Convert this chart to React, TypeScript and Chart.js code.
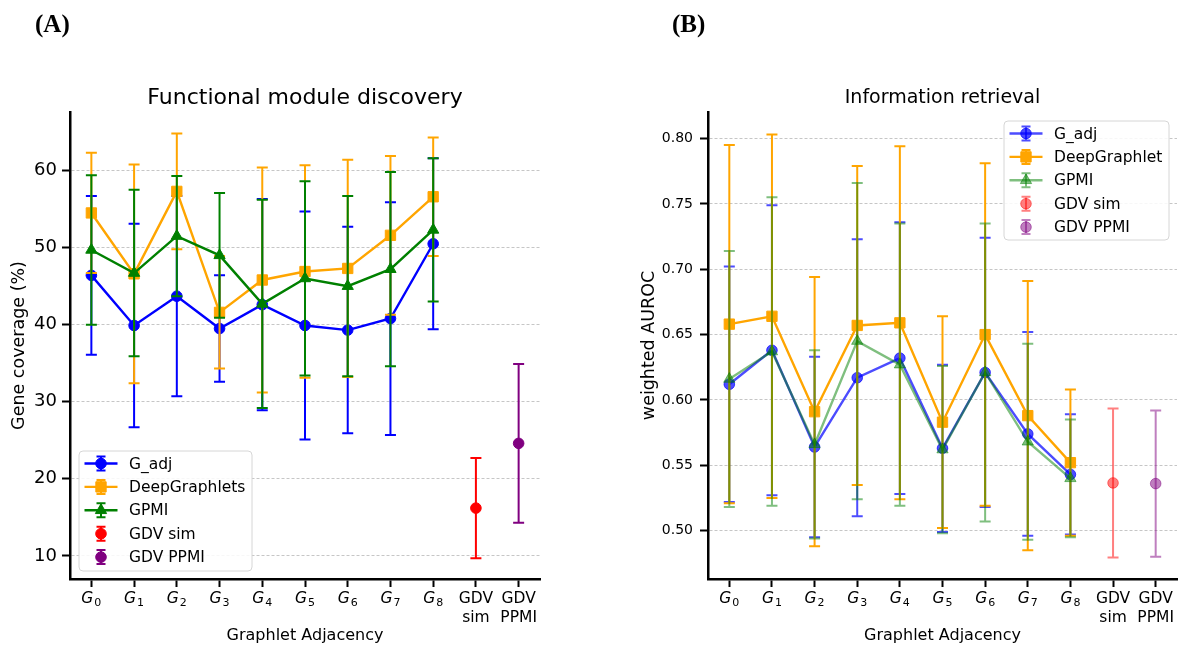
import React, { useEffect, useRef } from "react";
import { Chart, registerables } from "chart.js";

Chart.register(...registerables);

const FONT = "'DejaVu Sans', 'Liberation Sans', sans-serif";

// ---------- shared categories ----------
const categories = ["G0", "G1", "G2", "G3", "G4", "G5", "G6", "G7", "G8", "GDV sim", "GDV PPMI"];
const graphletSubscripts = ["0", "1", "2", "3", "4", "5", "6", "7", "8"];
const gdvTickLabels = [["GDV", "sim"], ["GDV", "PPMI"]];
const xAxisTitle = "Graphlet Adjacency";

// ---------- Panel A: Functional module discovery ----------
const fmYTicks = [10, 20, 30, 40, 50, 60];
const fmAdjMean = [46.4, 39.9, 43.7, 39.5, 42.6, 39.9, 39.3, 40.8, 50.5];
const fmAdjErr = [10.3, 13.2, 13.0, 6.9, 13.7, 14.8, 13.4, 15.1, 11.1];
const fmDeepMean = [54.5, 46.6, 57.3, 41.6, 45.8, 46.9, 47.3, 51.6, 56.6];
const fmDeepErr = [7.8, 14.2, 7.5, 7.3, 14.6, 13.8, 14.1, 10.3, 7.7];
const fmGpmiMean = [49.7, 46.7, 51.5, 49.0, 42.7, 46.0, 45.0, 47.2, 52.3];
const fmGpmiErr = [9.7, 10.8, 7.8, 8.1, 13.5, 12.6, 11.7, 12.6, 9.3];
const fmGdvSimMean = [16.2];
const fmGdvSimErr = [6.5];
const fmGdvPpmiMean = [24.6];
const fmGdvPpmiErr = [10.3];

// ---------- Panel B: Information retrieval ----------
const irYTicks = [0.5, 0.55, 0.6, 0.65, 0.7, 0.75, 0.8];
const irAdjMean = [0.612, 0.638, 0.564, 0.617, 0.632, 0.563, 0.621, 0.574, 0.543];
const irAdjErr = [0.09, 0.111, 0.069, 0.106, 0.104, 0.064, 0.103, 0.078, 0.046];
const irDeepMean = [0.658, 0.664, 0.591, 0.657, 0.659, 0.583, 0.65, 0.588, 0.552];
const irDeepErr = [0.137, 0.139, 0.103, 0.122, 0.135, 0.081, 0.131, 0.103, 0.056];
const irGpmiMean = [0.616, 0.637, 0.566, 0.645, 0.627, 0.562, 0.621, 0.568, 0.54];
const irGpmiErr = [0.098, 0.118, 0.072, 0.121, 0.108, 0.064, 0.114, 0.075, 0.045];
const irGdvSimMean = [0.5365];
const irGdvSimErr = [0.057];
const irGdvPpmiMean = [0.536];
const irGdvPpmiErr = [0.056];

type Marker = "circle" | "rect" | "triangle";
type SeriesSpec = {
  label: string;
  mean: number[];
  err: number[];
  start: number;
  color: string;
  alpha: number;
  marker: Marker;
  radius: number;
  line: boolean;
};
type PanelSpec = {
  title: string;
  titleSize: number;
  yTitle: string;
  yMin: number;
  yMax: number;
  yTicks: number[];
  yTickSize: number;
  yTickPad: number;
  yDigits: number;
  padLeft: number;
  padRight: number;
  yAxisWidth: number;
  series: SeriesSpec[];
  legend: { x: number; y: number; w: number; h: number };
};

const X_TICK_SIZE = 15.5;
const X_TICK_PAD = 2;
const TICK_LEN = 8;

function rgba(hex: string, a: number) {
  const h = hex.replace("#", "");
  const r = parseInt(h.slice(0, 2), 16);
  const g = parseInt(h.slice(2, 4), 16);
  const b = parseInt(h.slice(4, 6), 16);
  return `rgba(${r},${g},${b},${a})`;
}

function drawMarker(ctx: CanvasRenderingContext2D, m: Marker, x: number, y: number, r: number, c: string) {
  ctx.save();
  ctx.fillStyle = c;
  ctx.strokeStyle = c;
  ctx.lineWidth = 1;
  ctx.beginPath();
  if (m === "circle") {
    ctx.arc(x, y, r, 0, Math.PI * 2);
  } else if (m === "rect") {
    const s = r * Math.SQRT1_2;
    ctx.rect(x - s, y - s, 2 * s, 2 * s);
  } else {
    for (let k = 0; k < 3; k++) {
      const a = (k * 2 * Math.PI) / 3;
      const px = x + Math.sin(a) * r;
      const py = y - Math.cos(a) * r;
      if (k === 0) ctx.moveTo(px, py);
      else ctx.lineTo(px, py);
    }
    ctx.closePath();
  }
  ctx.fill();
  ctx.stroke();
  ctx.restore();
}

const errorBarPlugin = {
  id: "errorBars",
  beforeDatasetDraw(chart: any, args: any) {
    const ds: any = chart.data.datasets[args.index];
    if (!ds.errors) return;
    const xs = chart.scales.x;
    const ys = chart.scales.y;
    const ctx: CanvasRenderingContext2D = chart.ctx;
    const cap = 5.5;
    ctx.save();
    ctx.strokeStyle = ds.errColor;
    ctx.lineWidth = 2;
    ds.data.forEach((v: number | null, i: number) => {
      if (v == null) return;
      const e = ds.errors[i];
      const px = xs.getPixelForValue(i);
      const top = ys.getPixelForValue(v + e);
      const bot = ys.getPixelForValue(v - e);
      ctx.beginPath();
      ctx.moveTo(px, top);
      ctx.lineTo(px, bot);
      ctx.moveTo(px - cap, top);
      ctx.lineTo(px + cap, top);
      ctx.moveTo(px - cap, bot);
      ctx.lineTo(px + cap, bot);
      ctx.stroke();
    });
    ctx.restore();
  },
};

const graphletTickPlugin = {
  id: "graphletTicks",
  afterDraw(chart: any) {
    const xs = chart.scales.x;
    const ctx: CanvasRenderingContext2D = chart.ctx;
    const y = xs.top + TICK_LEN + X_TICK_PAD + (X_TICK_SIZE * 1.25) / 2;
    const sub = 11;
    ctx.save();
    ctx.fillStyle = "#000";
    ctx.textBaseline = "middle";
    ctx.textAlign = "left";
    graphletSubscripts.forEach((d, i) => {
      const px = xs.getPixelForValue(i);
      ctx.font = `italic ${X_TICK_SIZE}px ${FONT}`;
      const wG = ctx.measureText("G").width;
      ctx.font = `${sub}px ${FONT}`;
      const wD = ctx.measureText(d).width;
      const start = px - (wG + wD + 1) / 2;
      ctx.font = `italic ${X_TICK_SIZE}px ${FONT}`;
      ctx.fillText("G", start, y);
      ctx.font = `${sub}px ${FONT}`;
      ctx.fillText(d, start + wG + 1, y + 4.5);
    });
    ctx.restore();
  },
};

function makeLegendPlugin(p: PanelSpec) {
  return {
    id: "customLegend",
    afterDraw(chart: any) {
      const ctx: CanvasRenderingContext2D = chart.ctx;
      const L = p.legend;
      const rr = 4;
      ctx.save();
      ctx.beginPath();
      ctx.moveTo(L.x + rr, L.y);
      ctx.lineTo(L.x + L.w - rr, L.y);
      ctx.arcTo(L.x + L.w, L.y, L.x + L.w, L.y + rr, rr);
      ctx.lineTo(L.x + L.w, L.y + L.h - rr);
      ctx.arcTo(L.x + L.w, L.y + L.h, L.x + L.w - rr, L.y + L.h, rr);
      ctx.lineTo(L.x + rr, L.y + L.h);
      ctx.arcTo(L.x, L.y + L.h, L.x, L.y + L.h - rr, rr);
      ctx.lineTo(L.x, L.y + rr);
      ctx.arcTo(L.x, L.y, L.x + rr, L.y, rr);
      ctx.closePath();
      ctx.fillStyle = "rgba(255,255,255,0.85)";
      ctx.fill();
      ctx.strokeStyle = "#d6d6d6";
      ctx.lineWidth = 1;
      ctx.stroke();
      p.series.forEach((s, k) => {
        const cy = L.y + 12.5 + k * 23.4;
        const x0 = L.x + 5.5;
        const x1 = x0 + 33;
        const mx = (x0 + x1) / 2;
        const c = rgba(s.color, s.alpha);
        ctx.strokeStyle = c;
        ctx.lineWidth = 2;
        ctx.beginPath();
        ctx.moveTo(mx, cy - 7);
        ctx.lineTo(mx, cy + 7);
        ctx.moveTo(mx - 4.5, cy - 7);
        ctx.lineTo(mx + 4.5, cy - 7);
        ctx.moveTo(mx - 4.5, cy + 7);
        ctx.lineTo(mx + 4.5, cy + 7);
        ctx.stroke();
        if (s.line) {
          ctx.lineWidth = 2.4;
          ctx.beginPath();
          ctx.moveTo(x0, cy);
          ctx.lineTo(x1, cy);
          ctx.stroke();
        }
        drawMarker(ctx, s.marker, mx, cy, s.radius, c);
        ctx.fillStyle = "#000";
        ctx.font = `15.5px ${FONT}`;
        ctx.textBaseline = "middle";
        ctx.textAlign = "left";
        ctx.fillText(s.label, L.x + 50, cy + 1);
      });
      ctx.restore();
    },
  };
}

function buildConfig(p: PanelSpec): any {
  const datasets = p.series.map((s, k) => {
    const inRange = (i: number) => i >= s.start && i < s.start + s.mean.length;
    const data = categories.map((_, i) => (inRange(i) ? s.mean[i - s.start] : null));
    const errors = categories.map((_, i) => (inRange(i) ? s.err[i - s.start] : null));
    const c = rgba(s.color, s.alpha);
    return {
      type: "line",
      label: s.label,
      data,
      errors,
      errColor: c,
      borderColor: c,
      backgroundColor: c,
      borderWidth: 2.4,
      showLine: s.line,
      pointStyle: s.marker,
      pointRadius: s.radius,
      pointBorderWidth: 1,
      pointBackgroundColor: c,
      pointBorderColor: c,
      tension: 0,
      spanGaps: false,
      order: p.series.length - k,
    };
  });
  const titleLH = p.titleSize * 1.2;
  const titleTop = 98 - titleLH / 2;
  return {
    type: "line",
    data: { labels: categories, datasets },
    plugins: [errorBarPlugin, graphletTickPlugin, makeLegendPlugin(p)],
    options: {
      responsive: false,
      animation: false,
      devicePixelRatio: 1,
      events: [],
      layout: { autoPadding: false, padding: { left: p.padLeft, right: p.padRight, top: 0, bottom: 0 } },
      plugins: {
        legend: { display: false },
        tooltip: { enabled: false },
        title: {
          display: true,
          text: p.title,
          color: "#000",
          fullSize: false,
          font: { family: FONT, size: p.titleSize, weight: "normal", lineHeight: 1.2 },
          padding: { top: titleTop, bottom: 112 - titleTop - titleLH },
        },
      },
      scales: {
        x: {
          type: "category",
          offset: true,
          grid: {
            display: true,
            offset: false,
            drawOnChartArea: false,
            drawTicks: true,
            tickLength: TICK_LEN,
            tickWidth: 2,
            tickColor: "#000",
            color: "rgba(0,0,0,0)",
          },
          border: { display: true, color: "#000", width: 2.5 },
          ticks: {
            autoSkip: false,
            maxRotation: 0,
            minRotation: 0,
            padding: X_TICK_PAD,
            color: "#000",
            font: { family: FONT, size: X_TICK_SIZE, lineHeight: 1.25 },
            callback: (_v: any, i: number) => (i >= graphletSubscripts.length ? gdvTickLabels[i - graphletSubscripts.length] : ""),
          },
          title: {
            display: true,
            text: xAxisTitle,
            color: "#000",
            font: { family: FONT, size: 16, lineHeight: 1.2 },
            padding: { top: 0, bottom: 1.4 },
          },
          afterFit: (s: any) => {
            s.height = 68;
          },
        },
        y: {
          type: "linear",
          min: p.yMin,
          max: p.yMax,
          afterBuildTicks: (s: any) => {
            s.ticks = p.yTicks.map((v) => ({ value: v }));
          },
          grid: {
            color: "#b8b8b8",
            lineWidth: 0.8,
            drawTicks: true,
            tickLength: TICK_LEN,
            tickWidth: 2,
            tickColor: "#000",
          },
          border: { display: true, color: "#000", width: 2.5, dash: [3, 2] },
          ticks: {
            padding: p.yTickPad,
            color: "#000",
            font: { family: FONT, size: p.yTickSize },
            callback: (v: any) => Number(v).toFixed(p.yDigits),
          },
          title: {
            display: true,
            text: p.yTitle,
            color: "#000",
            font: { family: FONT, size: 17.5, lineHeight: 1.2 },
            padding: { top: 8.5, bottom: 0 },
          },
          afterFit: (s: any) => {
            s.width = p.yAxisWidth;
          },
        },
      },
    },
  };
}

const panelA: PanelSpec = {
  title: "Functional module discovery",
  titleSize: 22,
  yTitle: "Gene coverage (%)",
  yMin: 7,
  yMax: 67.6,
  yTicks: fmYTicks,
  yTickSize: 18,
  yTickPad: 5,
  yDigits: 0,
  padLeft: 0,
  padRight: 50,
  yAxisWidth: 70,
  legend: { x: 79, y: 451, w: 173, h: 120 },
  series: [
    { label: "G_adj", mean: fmAdjMean, err: fmAdjErr, start: 0, color: "#0000ff", alpha: 1, marker: "circle", radius: 5.3, line: true },
    { label: "DeepGraphlets", mean: fmDeepMean, err: fmDeepErr, start: 0, color: "#ffa500", alpha: 1, marker: "rect", radius: 7.3, line: true },
    { label: "GPMI", mean: fmGpmiMean, err: fmGpmiErr, start: 0, color: "#008000", alpha: 1, marker: "triangle", radius: 6.5, line: true },
    { label: "GDV sim", mean: fmGdvSimMean, err: fmGdvSimErr, start: 9, color: "#ff0000", alpha: 1, marker: "circle", radius: 5.3, line: false },
    { label: "GDV PPMI", mean: fmGdvPpmiMean, err: fmGdvPpmiErr, start: 10, color: "#800080", alpha: 1, marker: "circle", radius: 5.3, line: false },
  ],
};

const panelB: PanelSpec = {
  title: "Information retrieval",
  titleSize: 19,
  yTitle: "weighted AUROC",
  yMin: 0.463,
  yMax: 0.8203,
  yTicks: irYTicks,
  yTickSize: 14,
  yTickPad: 7,
  yDigits: 2,
  padLeft: 40,
  padRight: 3,
  yAxisWidth: 78,
  legend: { x: 414, y: 121, w: 165, h: 119 },
  series: [
    { label: "G_adj", mean: irAdjMean, err: irAdjErr, start: 0, color: "#0000ff", alpha: 0.7, marker: "circle", radius: 5.3, line: true },
    { label: "DeepGraphlet", mean: irDeepMean, err: irDeepErr, start: 0, color: "#ffa500", alpha: 1, marker: "rect", radius: 7.3, line: true },
    { label: "GPMI", mean: irGpmiMean, err: irGpmiErr, start: 0, color: "#008000", alpha: 0.5, marker: "triangle", radius: 6.5, line: true },
    { label: "GDV sim", mean: irGdvSimMean, err: irGdvSimErr, start: 9, color: "#ff0000", alpha: 0.5, marker: "circle", radius: 5.3, line: false },
    { label: "GDV PPMI", mean: irGdvPpmiMean, err: irGdvPpmiErr, start: 10, color: "#800080", alpha: 0.5, marker: "circle", radius: 5.3, line: false },
  ],
};

function Panel({ spec, left }: { spec: PanelSpec; left: number }) {
  const ref = useRef<HTMLCanvasElement>(null);
  useEffect(() => {
    const chart = new Chart(ref.current as HTMLCanvasElement, buildConfig(spec));
    return () => chart.destroy();
  }, [spec]);
  return (
    <canvas
      ref={ref}
      width={590}
      height={647}
      style={{ position: "absolute", left, top: 0, width: 590, height: 647 }}
    />
  );
}

const labelStyle: React.CSSProperties = {
  position: "absolute",
  top: 11,
  fontFamily: "'Liberation Serif', 'Times New Roman', serif",
  fontWeight: "bold",
  fontSize: 25,
  lineHeight: "26px",
  color: "#000",
};

export default function App() {
  return (
    <div style={{ position: "fixed", left: 0, top: 0, width: 1180, height: 647, background: "#fff", overflow: "hidden" }}>
      <Panel spec={panelA} left={0} />
      <Panel spec={panelB} left={590} />
      <div style={{ ...labelStyle, left: 35 }}>(A)</div>
      <div style={{ ...labelStyle, left: 672 }}>(B)</div>
    </div>
  );
}
